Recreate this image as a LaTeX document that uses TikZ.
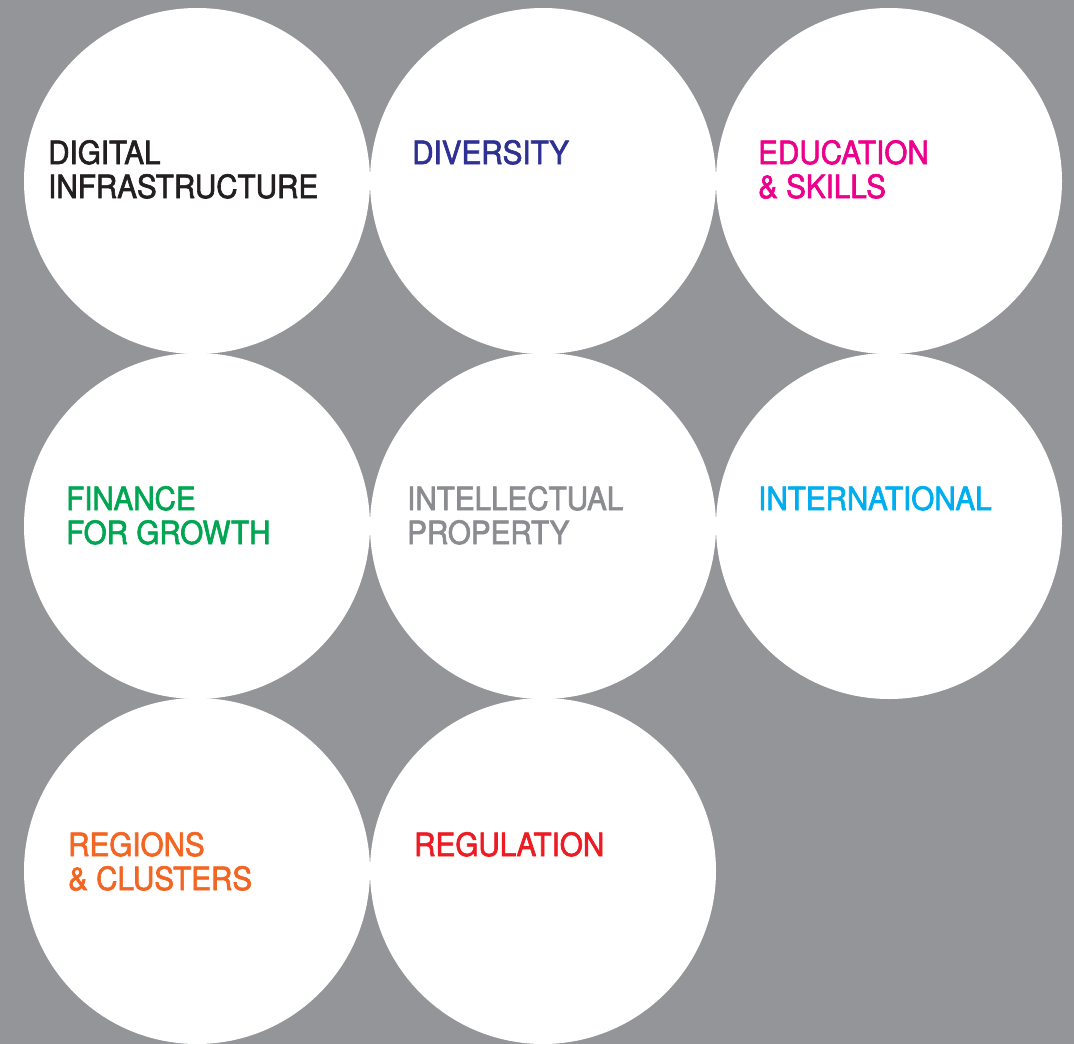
\documentclass[tikz,border=0pt]{standalone}
\usepackage{fontspec}
\setmainfont{TeX Gyre Heros}[FakeStretch=0.925, FakeBold=2]
\usetikzlibrary{positioning}

\definecolor{bggray}{HTML}{939598}
\definecolor{cdark}{HTML}{231F20}
\definecolor{cnavy}{HTML}{2E3192}
\definecolor{cmagenta}{HTML}{EC008C}
\definecolor{cgreen}{HTML}{00A651}
\definecolor{cgray}{HTML}{8A8C8F}
\definecolor{ccyan}{HTML}{00AEEF}
\definecolor{corange}{HTML}{F26522}
\definecolor{cred}{HTML}{ED1C24}

\tikzset{
  bubble/.style={circle, fill=white, inner sep=0pt, minimum size=346pt},
  tag/.style={anchor=base west, inner sep=0pt, align=left,
    font=\fontsize{32}{34}\selectfont}
}

\begin{document}
\begin{tikzpicture}[x=1pt, y=-1pt]
  \fill[bggray] (0,0) rectangle (1074,1044);
  \useasboundingbox (0,0) rectangle (1074,1044);

  % circles
  \node [bubble] (digital) at (197,181) {};
  \node [bubble] (diversity) at (543,181) {};
  \node [bubble] (education) at (889,181) {};
  \node [bubble] (finance) at (197,526) {};
  \node [bubble] (ip) at (543,526) {};
  \node [bubble] (international) at (889,526) {};
  \node [bubble] (regions) at (197,871) {};
  \node [bubble] (regulation) at (543,871) {};

  % labels (base = last line)
  \node [tag, text=cdark] (digital_t) at (48,198) {DIGITAL\\INFRASTRUCTURE};
  \node [tag, text=cnavy] (diversity_t) at (412,164) {DIVERSITY};
  \node [tag, text=cmagenta] (education_t) at (758,198) {EDUCATION\\\&~SKILLS};
  \node [tag, text=cgreen] (finance_t) at (66,544) {FINANCE\\FOR GROWTH};
  \node [tag, text=cgray] (ip_t) at (407,544) {INTELLECTUAL\\PROPERTY};
  \node [tag, text=ccyan] (international_t) at (758,510) {INTERNATIONAL};
  \node [tag, text=corange] (regions_t) at (68,890) {REGIONS\\\&~CLUSTERS};
  \node [tag, text=cred] (regulation_t) at (414,856) {REGULATION};
\end{tikzpicture}
\end{document}
